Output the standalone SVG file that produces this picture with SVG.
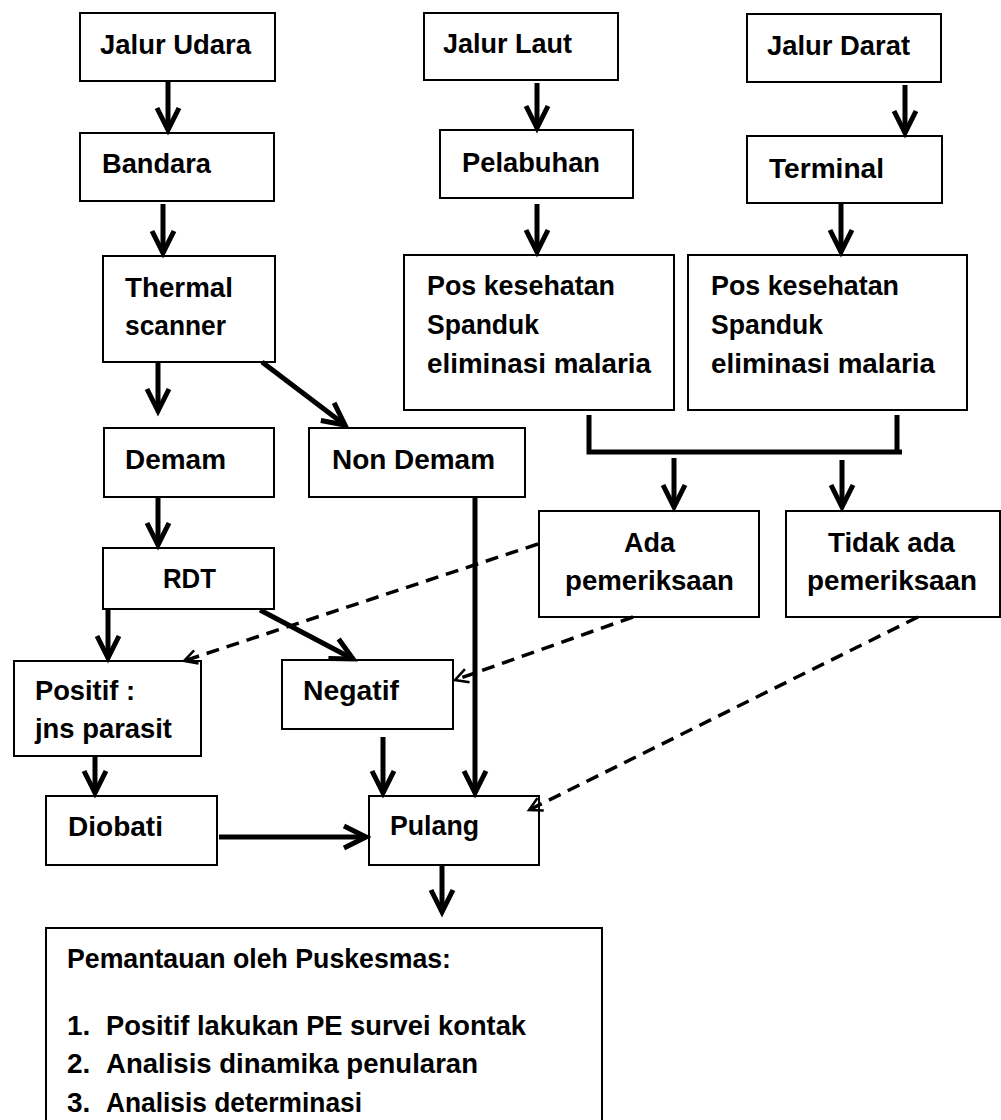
<svg xmlns="http://www.w3.org/2000/svg" width="1001" height="1120" viewBox="0 0 1001 1120">
<style>
.box{fill:#fff;stroke:#000;stroke-width:2}
.t{font-family:"Liberation Sans",Arial,sans-serif;font-weight:bold;font-size:28px;fill:#000}
.c{fill:none;stroke:#000;stroke-width:5}
.d{fill:none;stroke:#000;stroke-width:3.5;stroke-dasharray:13 8}
</style>
<defs>
<marker id="arr" markerUnits="userSpaceOnUse" markerWidth="60" markerHeight="60" refX="0" refY="0" orient="auto" viewBox="-30 -30 60 60" overflow="visible">
<path d="M-22,-11 L0,0 L-22,11" fill="none" stroke="#000" stroke-width="5" stroke-linejoin="miter"/>
</marker>
<marker id="arrd" markerUnits="userSpaceOnUse" markerWidth="40" markerHeight="40" refX="0" refY="0" orient="auto" viewBox="-20 -20 40 40" overflow="visible">
<path d="M-13,-7 L0,0 L-13,7" fill="none" stroke="#000" stroke-width="2.5"/>
</marker>
</defs>
<rect width="1001" height="1120" fill="#fff"/>

<g id="jalur-udara"><rect class="box" x="80" y="13" width="195" height="68"/><text class="t" x="100" y="54" textLength="151" lengthAdjust="spacingAndGlyphs">Jalur Udara</text></g>
<g id="bandara"><rect class="box" x="80" y="133" width="194" height="68"/><text class="t" x="102" y="173" textLength="109" lengthAdjust="spacingAndGlyphs">Bandara</text></g>
<g id="thermal"><rect class="box" x="103" y="256" width="172" height="106"/><text class="t" x="125" y="297" textLength="108" lengthAdjust="spacingAndGlyphs">Thermal</text><text class="t" x="125" y="335" textLength="101" lengthAdjust="spacingAndGlyphs">scanner</text></g>
<g id="jalur-laut"><rect class="box" x="424" y="13" width="194" height="67"/><text class="t" x="443" y="53" textLength="129" lengthAdjust="spacingAndGlyphs">Jalur Laut</text></g>
<g id="pelabuhan"><rect class="box" x="440" y="130" width="193" height="68"/><text class="t" x="462" y="172" textLength="138" lengthAdjust="spacingAndGlyphs">Pelabuhan</text></g>
<g id="jalur-darat"><rect class="box" x="747" y="14" width="194" height="68"/><text class="t" x="767" y="55" textLength="143" lengthAdjust="spacingAndGlyphs">Jalur Darat</text></g>
<g id="terminal"><rect class="box" x="747" y="136" width="195" height="67"/><text class="t" x="769" y="178" textLength="115" lengthAdjust="spacingAndGlyphs">Terminal</text></g>
<g id="pos1"><rect class="box" x="404" y="255" width="270" height="155"/><text class="t" x="427" y="295" textLength="188" lengthAdjust="spacingAndGlyphs">Pos kesehatan</text><text class="t" x="427" y="334" textLength="112" lengthAdjust="spacingAndGlyphs">Spanduk</text><text class="t" x="427" y="373" textLength="224" lengthAdjust="spacingAndGlyphs">eliminasi malaria</text></g>
<g id="pos2"><rect class="box" x="688" y="255" width="279" height="155"/><text class="t" x="711" y="295" textLength="188" lengthAdjust="spacingAndGlyphs">Pos kesehatan</text><text class="t" x="711" y="334" textLength="112" lengthAdjust="spacingAndGlyphs">Spanduk</text><text class="t" x="711" y="373" textLength="224" lengthAdjust="spacingAndGlyphs">eliminasi malaria</text></g>
<g id="demam"><rect class="box" x="104" y="428" width="170" height="69"/><text class="t" x="125" y="469" textLength="101" lengthAdjust="spacingAndGlyphs">Demam</text></g>
<g id="non-demam"><rect class="box" x="309" y="428" width="216" height="69"/><text class="t" x="332" y="469" textLength="163" lengthAdjust="spacingAndGlyphs">Non Demam</text></g>
<g id="ada"><rect class="box" x="539" y="511" width="220" height="106"/><text class="t" x="624" y="552" textLength="51" lengthAdjust="spacingAndGlyphs">Ada</text><text class="t" x="565" y="590" textLength="169" lengthAdjust="spacingAndGlyphs">pemeriksaan</text></g>
<g id="tidak-ada"><rect class="box" x="786" y="511" width="214" height="106"/><text class="t" x="828" y="552" textLength="127" lengthAdjust="spacingAndGlyphs">Tidak ada</text><text class="t" x="807" y="590" textLength="170" lengthAdjust="spacingAndGlyphs">pemeriksaan</text></g>
<g id="rdt"><rect class="box" x="103" y="548" width="171" height="61"/><text class="t" x="163" y="588" textLength="53" lengthAdjust="spacingAndGlyphs">RDT</text></g>
<g id="positif"><rect class="box" x="14" y="661" width="187" height="95"/><text class="t" x="35" y="700" textLength="100" lengthAdjust="spacingAndGlyphs">Positif :</text><text class="t" x="35" y="738" textLength="137" lengthAdjust="spacingAndGlyphs">jns parasit</text></g>
<g id="negatif"><rect class="box" x="282" y="660" width="171" height="69"/><text class="t" x="303" y="700" textLength="96" lengthAdjust="spacingAndGlyphs">Negatif</text></g>
<g id="diobati"><rect class="box" x="46" y="796" width="171" height="69"/><text class="t" x="68" y="836" textLength="95" lengthAdjust="spacingAndGlyphs">Diobati</text></g>
<g id="pulang"><rect class="box" x="369" y="796" width="170" height="69"/><text class="t" x="390" y="835" textLength="89" lengthAdjust="spacingAndGlyphs">Pulang</text></g>
<g id="pemantauan"><rect class="box" x="46" y="928" width="556" height="205"/>
<text class="t" x="67" y="968" textLength="384" lengthAdjust="spacingAndGlyphs">Pemantauan oleh Puskesmas:</text>
<text class="t" x="67" y="1035">1.</text><text class="t" x="106" y="1035" textLength="420" lengthAdjust="spacingAndGlyphs">Positif lakukan PE survei kontak</text>
<text class="t" x="67" y="1073">2.</text><text class="t" x="106" y="1073" textLength="372" lengthAdjust="spacingAndGlyphs">Analisis dinamika penularan</text>
<text class="t" x="67" y="1112">3.</text><text class="t" x="106" y="1112" textLength="256" lengthAdjust="spacingAndGlyphs">Analisis determinasi</text>
</g>

<g id="connectors">
<line class="c" x1="168" y1="81" x2="168" y2="130" marker-end="url(#arr)"/>
<line class="c" x1="163" y1="204" x2="163" y2="253" marker-end="url(#arr)"/>
<line class="c" x1="158" y1="362" x2="158" y2="411" marker-end="url(#arr)"/>
<line class="c" x1="262" y1="362" x2="345" y2="425" marker-end="url(#arr)"/>
<line class="c" x1="158" y1="497" x2="158" y2="545" marker-end="url(#arr)"/>
<line class="c" x1="108" y1="609" x2="108" y2="658" marker-end="url(#arr)"/>
<line class="c" x1="260" y1="610" x2="353" y2="659" marker-end="url(#arr)"/>
<line class="c" x1="95" y1="756" x2="95" y2="793" marker-end="url(#arr)"/>
<line class="c" x1="383" y1="737" x2="383" y2="793" marker-end="url(#arr)"/>
<line class="c" x1="475" y1="497" x2="475" y2="793" marker-end="url(#arr)"/>
<line class="c" x1="219" y1="837" x2="366" y2="837" marker-end="url(#arr)"/>
<line class="c" x1="442" y1="865" x2="442" y2="912" marker-end="url(#arr)"/>
<line class="c" x1="537" y1="83" x2="537" y2="128" marker-end="url(#arr)"/>
<line class="c" x1="537" y1="204" x2="537" y2="252" marker-end="url(#arr)"/>
<line class="c" x1="905" y1="85" x2="905" y2="133" marker-end="url(#arr)"/>
<line class="c" x1="841" y1="204" x2="841" y2="252" marker-end="url(#arr)"/>
<polyline class="c" points="589,415 589,452 902,452" stroke-width="6"/>
<line class="c" x1="897" y1="415" x2="897" y2="452" stroke-width="6"/>
<line class="c" x1="674" y1="458" x2="674" y2="507" marker-end="url(#arr)"/>
<line class="c" x1="842" y1="460" x2="842" y2="507" marker-end="url(#arr)"/>
<line class="d" x1="538" y1="544" x2="184" y2="661" marker-end="url(#arrd)"/>
<line class="d" x1="633" y1="617" x2="455" y2="680" marker-end="url(#arrd)"/>
<line class="d" x1="918" y1="617" x2="529" y2="810" marker-end="url(#arrd)"/>
</g>
</svg>
